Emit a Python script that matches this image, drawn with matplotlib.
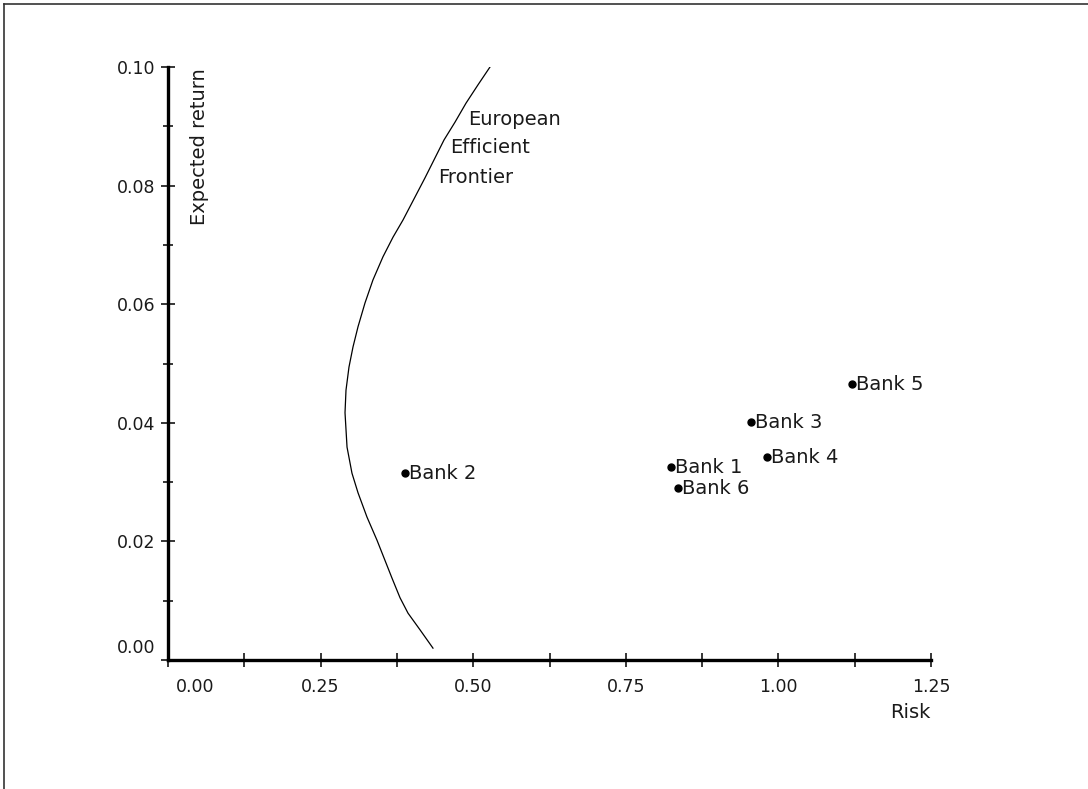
import matplotlib.pyplot as plt
from matplotlib.lines import Line2D
from matplotlib.transforms import ScaledTranslation

# frontier (risk, expected return)
frontier_risk = [0.5275, 0.5079, 0.4882, 0.4702, 0.4522, 0.4210, 0.3850, 0.3686,
                 0.3522, 0.3358, 0.3227, 0.3113, 0.3031, 0.2965, 0.2916, 0.2900,
                 0.2933, 0.3014, 0.3113, 0.3260, 0.3424, 0.3670, 0.3801, 0.3932,
                 0.4128, 0.4341]
frontier_return = [0.1000, 0.0970, 0.0939, 0.0907, 0.0877, 0.0813, 0.0742, 0.0713,
                   0.0680, 0.0641, 0.0602, 0.0562, 0.0528, 0.0494, 0.0455, 0.0417,
                   0.0359, 0.0315, 0.0282, 0.0241, 0.0202, 0.0138, 0.0105, 0.0079,
                   0.0051, 0.0020]

banks = ["Bank 1", "Bank 2", "Bank 3", "Bank 4", "Bank 5", "Bank 6"]
bank_risk = [0.824, 0.388, 0.955, 0.981, 1.121, 0.835]
bank_return = [0.0325, 0.0315, 0.0401, 0.0342, 0.0465, 0.0290]

x_ticks = [0.0, 0.25, 0.5, 0.75, 1.0, 1.25]
x_labels = ["0.00", "0.25", "0.50", "0.75", "1.00", "1.25"]
y_ticks = [0.0, 0.02, 0.04, 0.06, 0.08, 0.10]
y_labels = ["0.00", "0.02", "0.04", "0.06", "0.08", "0.10"]

plt.rcParams["font.family"] = ["DejaVu Sans"]
TXT = "#1a1a1a"

fig = plt.figure(figsize=(10.88, 7.89), dpi=100)
ax = fig.add_axes([168 / 1088, 1 - 660 / 789, 763 / 1088, 593 / 789])

ax.plot(frontier_risk, frontier_return, color="black", lw=0.9)
ax.plot(bank_risk, bank_return, "o", color="black", ms=5)
for name, r, m in zip(banks, bank_risk, bank_return):
    ax.annotate(name, (r, m), xytext=(3, 0), textcoords="offset points",
                va="center", ha="left", fontsize=14, color=TXT)

ax.text(0.4915, 0.0912, "European", fontsize=14, va="center", ha="left", color=TXT)
ax.text(0.4620, 0.0864, "Efficient", fontsize=14, va="center", ha="left", color=TXT)
ax.text(0.4430, 0.0813, "Frontier", fontsize=14, va="center", ha="left", color=TXT)

ax.text(0.052, 0.0998, "Expected return", rotation=90, fontsize=14,
        va="top", ha="center", color=TXT)
ax.text(1.25, -0.0088, "Risk", fontsize=14, va="center", ha="right", color=TXT)

ax.set_xlim(0, 1.25)
ax.set_ylim(0, 0.10)
ax.set_xticks(x_ticks)
ax.set_xticklabels(x_labels)
ax.set_yticks(y_ticks)
ax.set_yticklabels(y_labels)
ax.set_xticks([0.125, 0.375, 0.625, 0.875, 1.125], minor=True)
ax.set_yticks([0.01, 0.03, 0.05, 0.07, 0.09], minor=True)

for side in ["top", "right"]:
    ax.spines[side].set_visible(False)
for side in ["left", "bottom"]:
    ax.spines[side].set_linewidth(2.4)

ax.tick_params(axis="x", which="both", direction="inout", length=10, width=1.1,
               labelsize=12.5, pad=8, labelcolor=TXT)
ax.tick_params(axis="y", which="major", direction="inout", length=10, width=1.1,
               labelsize=12.5, pad=4, labelcolor=TXT)
ax.tick_params(axis="y", which="minor", direction="inout", length=7, width=1.1)

# nudge the labels at the origin so they do not touch
xl0 = ax.get_xticklabels()[0]
xl0.set_transform(xl0.get_transform() + ScaledTranslation(0.27, 0, fig.dpi_scale_trans))
yl0 = ax.get_yticklabels()[0]
yl0.set_transform(yl0.get_transform() + ScaledTranslation(0, 0.14, fig.dpi_scale_trans))

# frame at the top and left edge of the picture
fig.add_artist(Line2D([4 / 1088, 4 / 1088], [0, 1 - 4 / 789], color="#333333", lw=1.2))
fig.add_artist(Line2D([4 / 1088, 1], [1 - 4 / 789, 1 - 4 / 789], color="#333333", lw=1.2))

fig.savefig("out.png", dpi=100)
